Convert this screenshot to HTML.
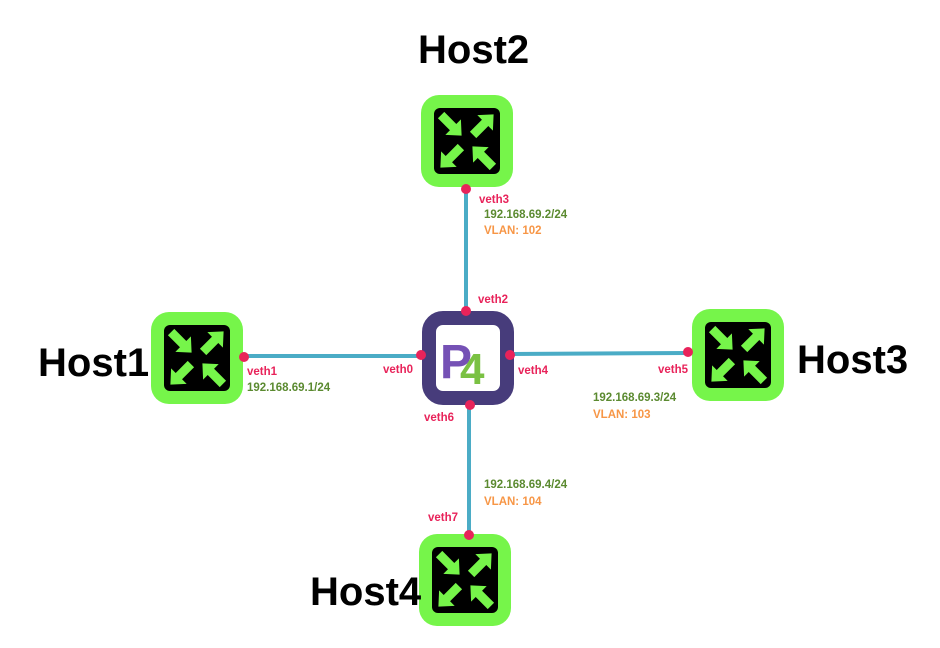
<!DOCTYPE html>
<html><head><meta charset="utf-8"><style>
html,body{margin:0;padding:0;background:#fff;width:940px;height:648px;overflow:hidden}
svg{display:block}
.h{font-family:"Liberation Sans",sans-serif;font-weight:bold;font-size:40px;fill:#000}
.s{font-family:"Liberation Sans",sans-serif;font-weight:bold;font-size:11.5px}
.r{fill:#e8235a}.g{fill:#5b8a30}.o{fill:#f79646}
</style></head><body>
<svg width="940" height="648" viewBox="0 0 940 648">
<defs>
<polygon id="ar" points="-14,-4.5 3,-4.5 3,-11 15,0 3,11 3,4.5 -14,4.5"/>
<g id="sw">
<rect x="0" y="0" width="92" height="92" rx="18" fill="#76f54a"/>
<rect x="13" y="13" width="66" height="66" rx="6" fill="#000"/>
<g fill="#76f54a">
<use href="#ar" transform="translate(30,30) rotate(45)"/>
<use href="#ar" transform="translate(62,30) rotate(-45)"/>
<use href="#ar" transform="translate(30,62) rotate(135)"/>
<use href="#ar" transform="translate(62,62) rotate(-135)"/>
</g>
</g>
</defs>
<g stroke="#4bacc6" stroke-width="4">
<line x1="244" y1="356" x2="421" y2="356"/>
<line x1="510" y1="354" x2="688" y2="353"/>
<line x1="466" y1="189" x2="466" y2="311"/>
<line x1="469" y1="405" x2="469" y2="535"/>
</g>
<use href="#sw" x="421" y="95"/>
<use href="#sw" x="151" y="312"/>
<use href="#sw" x="692" y="309"/>
<use href="#sw" x="419" y="534"/>
<rect x="429" y="318" width="78" height="80" rx="14" fill="#fff" stroke="#473c7b" stroke-width="14"/>
<text x="440" y="378" font-family="Liberation Sans,sans-serif" font-weight="bold" font-size="48" fill="#7551b5">P</text>
<text x="460" y="384" font-family="Liberation Sans,sans-serif" font-weight="bold" font-size="44" fill="#7ac143">4</text>
<g fill="#e8235a">
<circle cx="466" cy="189" r="5"/><circle cx="466" cy="311" r="5"/>
<circle cx="244" cy="357" r="5"/><circle cx="421" cy="355" r="5"/>
<circle cx="510" cy="355" r="5"/><circle cx="688" cy="352" r="5"/>
<circle cx="470" cy="405" r="5"/><circle cx="469" cy="535" r="5"/>
</g>
<text class="h" x="418" y="63">Host2</text>
<text class="h" x="38" y="376">Host1</text>
<text class="h" x="797" y="373">Host3</text>
<text class="h" x="310" y="605">Host4</text>
<text class="s r" x="479" y="203">veth3</text>
<text class="s g" x="484" y="218" font-size="12.5">192.168.69.2/24</text>
<text class="s o" x="484" y="234">VLAN: 102</text>
<text class="s r" x="478" y="303">veth2</text>
<text class="s r" x="383" y="373">veth0</text>
<text class="s r" x="518" y="374">veth4</text>
<text class="s r" x="424" y="421">veth6</text>
<text class="s r" x="247" y="375">veth1</text>
<text class="s g" x="247" y="391" font-size="12.5">192.168.69.1/24</text>
<text class="s r" x="658" y="373">veth5</text>
<text class="s g" x="593" y="401" font-size="12.5">192.168.69.3/24</text>
<text class="s o" x="593" y="418">VLAN: 103</text>
<text class="s g" x="484" y="488" font-size="12.5">192.168.69.4/24</text>
<text class="s o" x="484" y="505">VLAN: 104</text>
<text class="s r" x="428" y="521">veth7</text>
</svg>
</body></html>
